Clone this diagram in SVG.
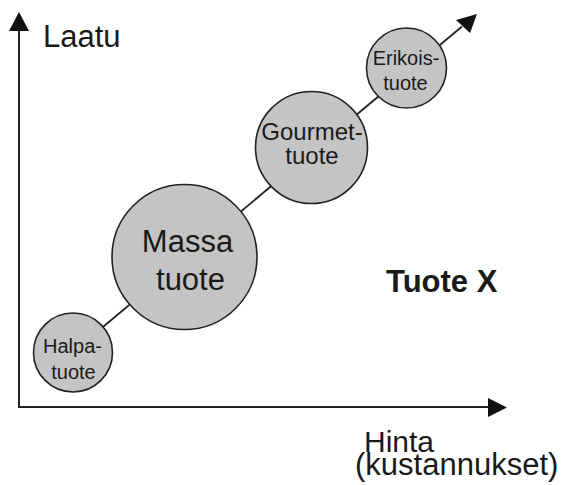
<svg xmlns="http://www.w3.org/2000/svg" width="566" height="485" viewBox="0 0 566 485">
  <style>
    .axis { fill: none; stroke: #222; stroke-width: 2; stroke-linejoin: miter; }
    .link { fill: none; stroke: #222; stroke-width: 1.8; }
    .head { fill: #111; stroke: none; }
    .bubble { fill: #c4c4c4; stroke: #222; stroke-width: 1.6; }
    text { font-family: "Liberation Sans", Arial, sans-serif; fill: #1a1a1a; }
    .in { text-anchor: middle; }
    .s20 { font-size: 20px; }
    .s24 { font-size: 24px; }
    .s31 { font-size: 31px; }
    .lbl { font-size: 30px; }
  </style>

  <rect width="566" height="485" fill="#ffffff"/>

  <!-- axes and the price/quality trend line -->
  <g id="connectors">
    <path class="axis" d="M19,30 L19,407 L489,407"/>
    <polygon class="head" points="19,12 29,31 9,31"/>
    <polygon class="head" points="507,407.5 488,398 488,417"/>
    <path class="link" d="M73,352 L462,26.5"/>
    <polygon class="head" points="477,14 456,20 470,33"/>
  </g>

  <g id="halpa">
    <circle class="bubble" cx="73" cy="352.5" r="39.5"/>
    <text class="in s20" x="72.5" y="353">Halpa-</text>
    <text class="in s20" x="73.5" y="379">tuote</text>
  </g>

  <g id="massa">
    <circle class="bubble" cx="184.5" cy="257" r="72.5"/>
    <text class="in s31" x="187.5" y="252">Massa</text>
    <text class="in s31" x="190.5" y="290">tuote</text>
  </g>

  <g id="gourmet">
    <circle class="bubble" cx="311.5" cy="147.5" r="56"/>
    <text class="in s24" x="312" y="140">Gourmet-</text>
    <text class="in s24" x="312" y="164">tuote</text>
  </g>

  <g id="erikois">
    <circle class="bubble" cx="406.5" cy="68" r="40"/>
    <text class="in s20" x="406" y="65">Erikois-</text>
    <text class="in s20" x="405.5" y="90">tuote</text>
  </g>

  <g id="labels">
    <text class="s31" x="43" y="47">Laatu</text>
    <text class="lbl" x="364" y="452">Hinta</text>
    <text class="s31" x="355" y="475">(kustannukset)</text>
    <text class="s31" x="386" y="292" font-weight="bold">Tuote X</text>
  </g>
</svg>
